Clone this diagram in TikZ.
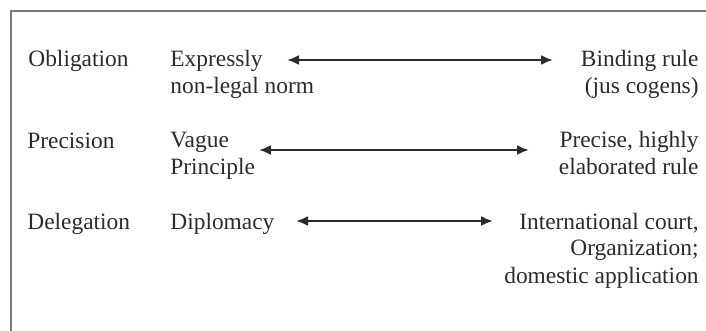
\documentclass[tikz,border=0pt]{standalone}
\usepackage{fontspec}
\setmainfont{Liberation Serif}
\usetikzlibrary{arrows.meta}
\definecolor{txt}{HTML}{2B2B2B}
\definecolor{frame}{HTML}{7A7A7A}
\tikzset{
  lbl/.style={inner sep=0pt, text=txt, font=\fontsize{11.7}{13.5}\selectfont},
  leftlbl/.style={lbl, anchor=base west, align=left},
  rightlbl/.style={lbl, anchor=base east, align=right},
  scale arrow/.style={draw=txt, line width=1.1pt, {Latex[length=6pt,width=5pt]}-{Latex[length=6pt,width=5pt]}}
}
\begin{document}
\begin{tikzpicture}[x=0.5pt,y=-0.5pt]
\useasboundingbox (0,0) rectangle (706,331);
\draw[frame, line width=1pt] (11,331) -- (11,11) -- (706,11);
% row 1 (base anchor = baseline of last line)
\node[leftlbl] (obl) at (28,67) {Obligation};
\node[leftlbl] (expr) at (170,94) {Expressly\\non-legal norm};
\node[rightlbl] (bind) at (699,94) {Binding rule\\(jus cogens)};
\coordinate (a1l) at (287,60);
\coordinate (a1r) at (553,60);
\draw[scale arrow] (a1l) -- (a1r);
% row 2
\node[leftlbl] (prec) at (27,149) {Precision};
\node[leftlbl] (vague) at (170,175) {Vague\\Principle};
\node[rightlbl] (precise) at (699,175) {Precise, highly\\elaborated rule};
\coordinate (a2l) at (259,150);
\coordinate (a2r) at (529,150);
\draw[scale arrow] (a2l) -- (a2r);
% row 3
\node[leftlbl] (del) at (27,229) {Delegation};
\node[leftlbl] (dipl) at (170,229) {Diplomacy};
\node[rightlbl] (intl) at (699,283) {International court,\\Organization;\\domestic application};
\coordinate (a3l) at (296,221);
\coordinate (a3r) at (493,221);
\draw[scale arrow] (a3l) -- (a3r);
\end{tikzpicture}
\end{document}
